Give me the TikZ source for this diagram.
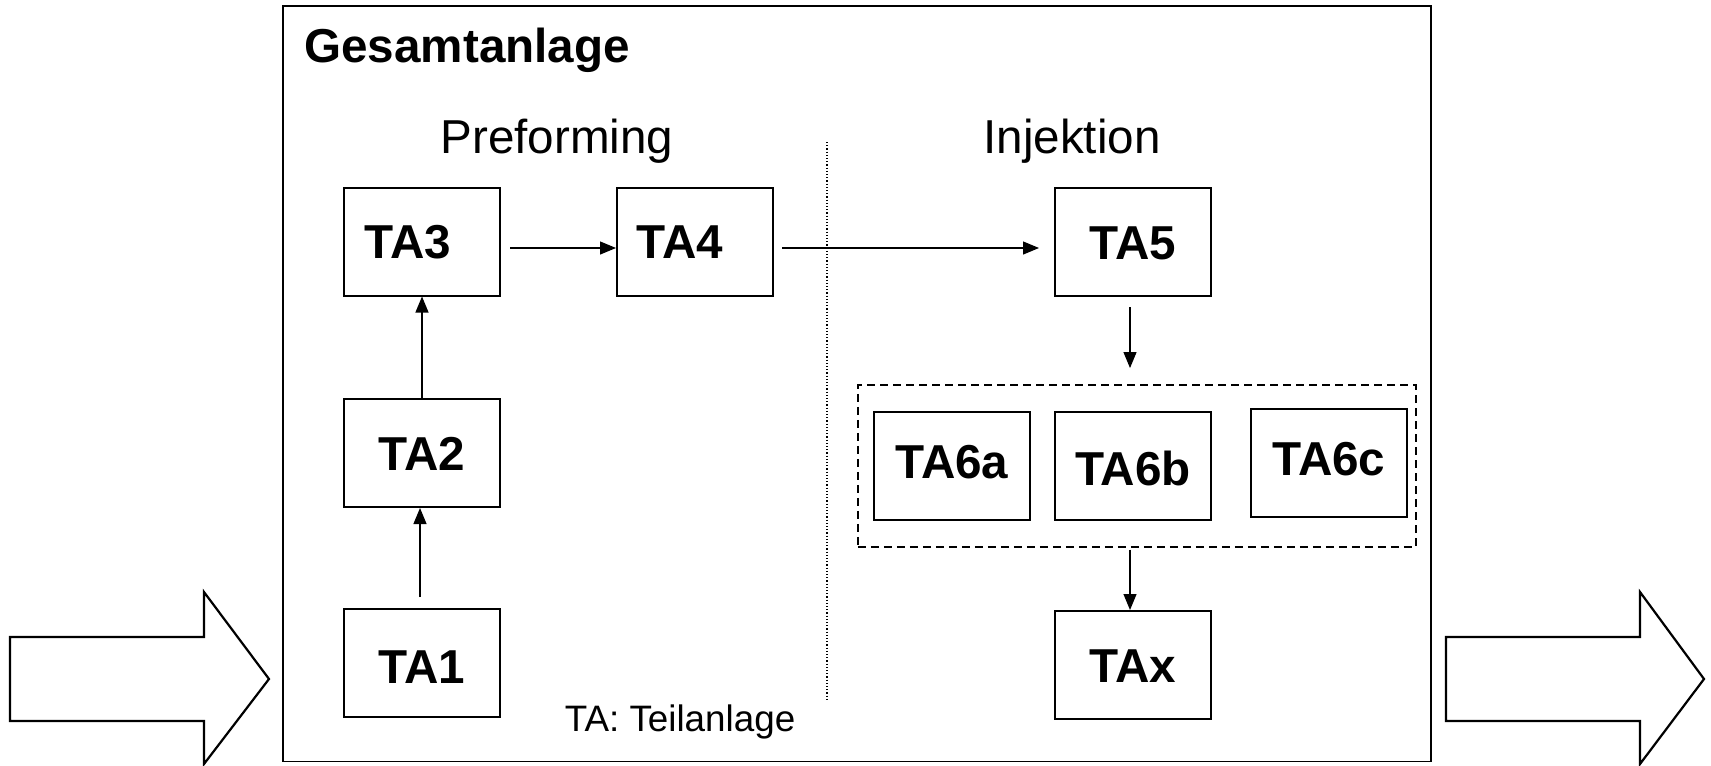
\documentclass[tikz,border=0pt]{standalone}
\usepackage{fontspec}
\setmainfont{Liberation Sans}
\usetikzlibrary{arrows.meta}

\begin{document}
\begin{tikzpicture}
		[x=0.5pt,y=-0.5pt,
		box/.style={rectangle,draw=black,line width=1pt,inner sep=0pt,
minimum width=78pt,minimum height=54pt,text height=17pt,text depth=0pt,
font=\fontsize{23.8}{28}\selectfont\bfseries},
		group/.style={rectangle,draw=black,line width=0.75pt,dash pattern=on 4pt off 2.5pt,
inner sep=0pt,minimum width=279pt,minimum height=81pt},
		heading/.style={anchor=base,inner sep=0pt,font=\fontsize{23.8}{28}\selectfont},
		flow/.style={-{Triangle[length=8pt,width=6.5pt]},line width=0.6pt},
		bigarrow/.style={draw=black,line width=1.1pt,line join=miter}]
		\useasboundingbox (0,0) rectangle (1711,765);
		\draw [line width=0.8pt] (283,6) rectangle (1431,761.5);
		\node at (304,63) (title) [anchor=base west,inner sep=0pt,
font=\fontsize{23.8}{28}\selectfont\bfseries] {Gesamtanlage};
		\node at (557,153) (pre) [heading] {Preforming};
		\node at (1072,153) (inj) [heading] {Injektion};
		\draw [line width=0.6pt,dash pattern=on 0.6pt off 1pt] (827,142) -- (827,700);
		% Preforming
		\node at (422,663) (ta1) [box,text height=20pt] {TA1};
		\node at (422,453) (ta2) [box] {TA2};
		\node at (422,241.5) (ta3) [box] {TA3\hspace*{14pt}};
		\node at (695,241.5) (ta4) [box] {TA4\hspace*{15pt}};
		% Injektion
		\node at (1133,242) (ta5) [box] {TA5};
		\node at (1136.8,465.8) (grp6) [group] {};
		\node at (952,465.5) (ta6a) [box,text depth=4pt] {TA6a};
		\node at (1133,465.5) (ta6b) [box,text height=19.5pt] {TA6b};
		\node at (1329,462.5) (ta6c) [box,text depth=4pt] {TA6c};
		\node at (1133,665) (tax) [box] {TAx};
		\node at (680,731.5) (note) [anchor=base,inner sep=0pt,
font=\fontsize{18.4}{22}\selectfont] {TA: Teilanlage};
		% connectors
		\draw [flow] (ta2.north) -- (ta3.south);
		\draw [flow,shorten <=5.5pt] ([xshift=-1pt]ta1.north) -- ([xshift=-1pt]ta2.south);
		\draw [flow,shorten <=4.5pt] ([yshift=-3.25pt]ta3.east) -- ([yshift=-3.25pt]ta4.west);
		\draw [flow,shorten <=4pt,shorten >=7.5pt] ([yshift=-3.25pt]ta4.east) -- ([yshift=-3pt]ta5.west);
		\draw [flow,shorten <=5pt,shorten >=8pt] ([xshift=-1.5pt]ta5.south) -- ([xshift=-1.5pt]ta5.south |- grp6.north);
		\draw [flow,shorten <=1pt] ([xshift=-1.5pt]tax.north |- grp6.south) -- ([xshift=-1.5pt]tax.north);
		% in / out
		\draw [bigarrow] (10,637) -- (204,637) -- (204,592) -- (269,679) -- (204,764)
			-- (204,721) -- (10,721) -- cycle;
		\draw [bigarrow] (1446,637) -- (1640,637) -- (1640,592) -- (1704,679) -- (1640,764)
			-- (1640,721) -- (1446,721) -- cycle;
	\end{tikzpicture}
\end{document}
